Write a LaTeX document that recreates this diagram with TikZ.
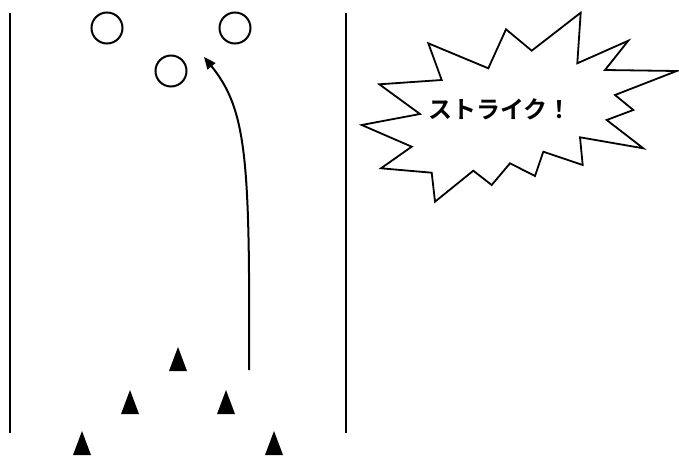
\documentclass[tikz,border=0pt]{standalone}
\usepackage{fontspec}
\newfontfamily\jpfont[BoldFont={Noto Sans CJK JP Bold}]{Noto Sans CJK JP}
\usetikzlibrary{arrows.meta}
\newcommand{\cone}[2]{%
  \fill (#1,#2) -- ++(-9,24) -- ++(18,0) -- cycle;
}

\begin{document}
\begin{tikzpicture}[x=1pt,y=-1pt,>={Triangle[length=12pt,width=10pt]},line width=2pt,
    pinring/.style={draw,circle,minimum size=31pt,inner sep=0pt,line width=2pt}]
    \useasboundingbox (0,0) rectangle (679,455);
    % lane edges
    \draw (10,13) -- (10,433);
    \draw (346,13) -- (346,433);
    % pins left standing
    \node[pinring] (pinA) at (107,28) {};
    \node[pinring] (pinB) at (235,28) {};
    \node[pinring] (pinC) at (171,71) {};
    % ball path
    \coordinate (throw) at (249,370);
    \coordinate (aim) at (204,57);
    \draw[->] (throw) .. controls (250,160) and (247,110) .. (aim);
    % fallen pins
    \cone{178}{347}
    \cone{130}{390}
    \cone{226}{390}
    \cone{82}{431}
    \cone{274}{431}
    % burst
    \draw[line width=1.8pt,fill=white] (580.7,12.7) -- (577.3,63.3) -- (628.3,40.7) -- (605,70)
      -- (676.7,71) -- (615,95) -- (633.3,110) -- (606.7,120) -- (643.3,148.3)
      -- (580,137.3) -- (582.7,165) -- (543.3,151.7) -- (535,176) -- (510,163.3)
      -- (491.7,185) -- (473.3,170.7) -- (435,201.7) -- (431.7,172.7) -- (381,168.3)
      -- (411.7,146.7) -- (361.7,125) -- (420,114) -- (379.3,84.3) -- (441.7,80)
      -- (428.3,43.3) -- (488.3,68.3) -- (506,29.3) -- (531.7,50.7) -- cycle;
    \node[font=\jpfont\bfseries\fontsize{24}{28}\selectfont,inner sep=0pt] (strike) at (500,109) {ストライク！};
  \end{tikzpicture}
\end{document}
